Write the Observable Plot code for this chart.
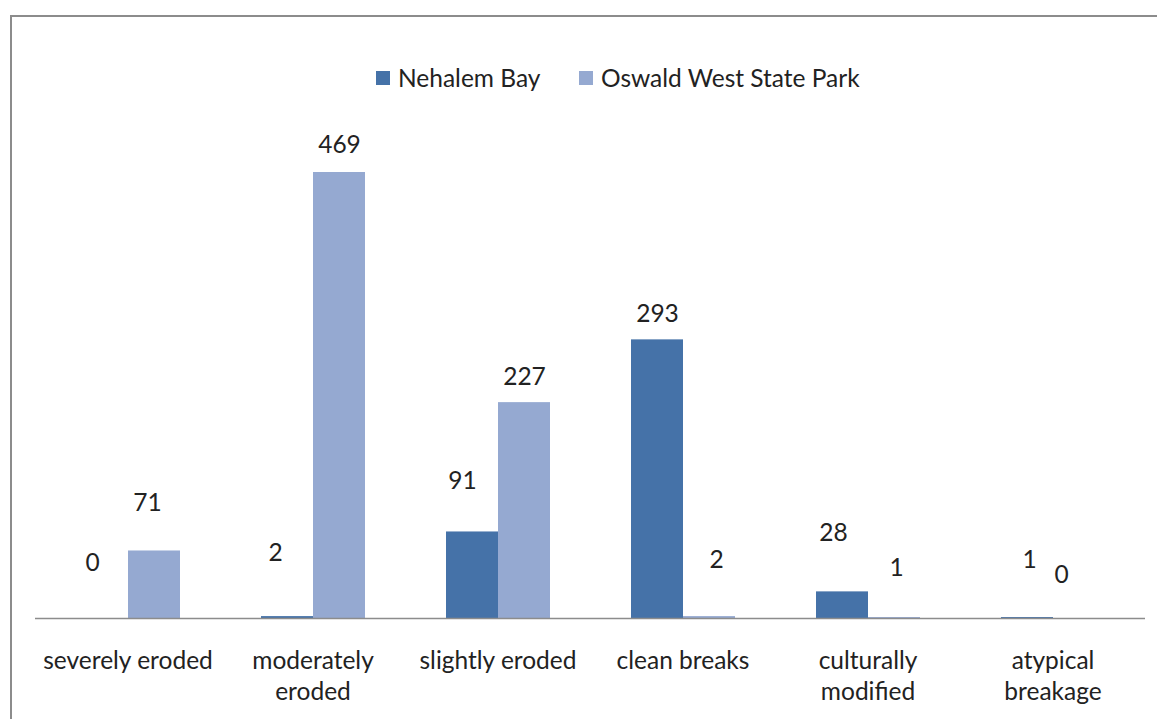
<!DOCTYPE html>
<html>
<head>
<meta charset="utf-8">
<script src="https://cdn.jsdelivr.net/npm/d3@7"></script>
<script src="https://cdn.jsdelivr.net/npm/@observablehq/plot@0.6"></script>
<style>
  html, body { margin: 0; padding: 0; background: #fff; }
  body { width: 1157px; height: 719px; overflow: hidden; position: relative; font-family: Lato, "Open Sans", sans-serif; }
  #frame {
    position: absolute; left: 10px; top: 15px; width: 1147px; height: 704px;
    border-top: 2px solid #8c8c8c; border-left: 2px solid #8c8c8c;
  }
  #legend {
    position: absolute; left: 0; top: 0; width: 100%; height: 120px;
  }
  .item { position: absolute; top: 46px; display: flex; align-items: center; font-size: 24.5px; color: #222; white-space: nowrap; }
  .swatch { width: 14px; height: 14px; margin-right: 8px; }
  #chart { position: absolute; left: 0; top: 120px; }
</style>
</head>
<body>
<div id="frame">
  <div id="legend"></div>
  <div id="chart"></div>
</div>
<script>
// Fragment condition categories and the two collection sites
const categories = ["severely eroded", "moderately eroded", "slightly eroded", "clean breaks", "culturally modified", "atypical breakage"];
const tickLabels = ["severely eroded", "moderately\neroded", "slightly eroded", "clean breaks", "culturally\nmodified", "atypical\nbreakage"];
const sites = ["Nehalem Bay", "Oswald West State Park"];
const nehalemBay = [0, 2, 91, 293, 28, 1];
const oswaldWest = [71, 469, 227, 2, 1, 0];
const colors = ["#4572a8", "#95a9d1"];

// Hand-placed value label nudges (px), one per site per category
const nudgeNehalem = [[-10, -55], [-12, -63], [-10, -51], [0, -26], [-9, -59], [2, -57]];
const nudgeOswald  = [[-7, -48], [0, -27], [0, -25], [7, -56], [2, -49], [-18, -43]];

const rows = [];
categories.forEach((c, i) => {
  rows.push({category: c, site: sites[0], value: nehalemBay[i], nudge: nudgeNehalem[i]});
  rows.push({category: c, site: sites[1], value: oswaldWest[i], nudge: nudgeOswald[i]});
});

const fontSize = 24.5;

const labelMarks = rows.map(r => Plot.text([r], {
  fx: "category", x: "site", y: "value", text: d => String(d.value),
  dx: r.nudge[0], dy: r.nudge[1], fontSize, fill: "#222"
}));

const chart = Plot.plot({
  width: 1145,
  height: 599,
  marginLeft: 23,
  marginRight: 12,
  marginTop: 0,
  marginBottom: 118,
  style: {fontFamily: "Lato, 'Open Sans', sans-serif", background: "transparent", overflow: "visible"},
  fx: {domain: categories, padding: 0, label: null},
  x: {domain: sites, paddingInner: 0, paddingOuter: 0.762, axis: null},
  y: {domain: [0, 469], range: [481, 35], axis: null},
  color: {domain: sites, range: colors},
  marks: [
    Plot.barY(rows, {fx: "category", x: "site", y: "value", fill: "site"}),
    Plot.ruleY([0], {stroke: "#8c8c8c", strokeWidth: 1.5}),
    Plot.axisFx({
      anchor: "bottom", tickSize: 0, tickPadding: 29, fontSize, lineHeight: 1.25, fill: "#222",
      tickFormat: c => tickLabels[categories.indexOf(c)], label: null
    }),
    ...labelMarks
  ]
});
document.getElementById("chart").appendChild(chart);

// Legend row above the plot
const legend = document.getElementById("legend");
const legendLeft = [364, 567];
sites.forEach((s, i) => {
  const item = document.createElement("div");
  item.className = "item";
  item.style.left = legendLeft[i] + "px";
  const sw = document.createElement("span");
  sw.className = "swatch";
  sw.style.background = colors[i];
  const label = document.createElement("span");
  label.textContent = s;
  item.appendChild(sw);
  item.appendChild(label);
  legend.appendChild(item);
});
</script>
</body>
</html>
